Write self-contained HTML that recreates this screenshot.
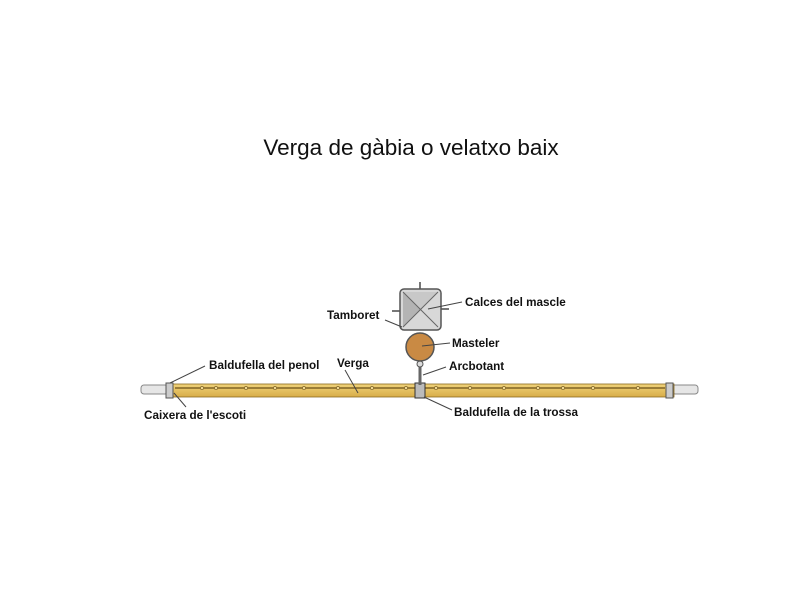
<!DOCTYPE html>
<html><head><style>
body{margin:0;background:#fff;width:800px;height:600px;overflow:hidden}
svg{display:block}
text{font-family:"Liberation Sans",Arial,sans-serif;font-weight:bold;font-size:11.7px;fill:#111}
</style></head><body>
<svg width="800" height="600" viewBox="0 0 800 600">
<text x="411" y="155" text-anchor="middle" style="font-weight:normal;font-size:22.5px">Verga de gàbia o velatxo baix</text>
<defs><linearGradient id="w" x1="0" y1="0" x2="0" y2="1"><stop offset="0" stop-color="#f0d27a"/><stop offset="1" stop-color="#d8ad48"/></linearGradient></defs>
<rect x="141" y="385" width="27" height="9" rx="3" fill="#e6e6e6" stroke="#888"/>
<rect x="672" y="385" width="26" height="9" rx="3" fill="#e6e6e6" stroke="#888"/>
<rect x="166" y="384" width="508" height="13" fill="url(#w)" stroke="#8a6a20" stroke-width="0.8"/>
<line x1="175" y1="388" x2="665" y2="388" stroke="#6b5018" stroke-width="1.2"/>
<g fill="#f0d890" stroke="#6b5018" stroke-width="0.6">
<circle cx="202" cy="388" r="1.6"/><circle cx="216" cy="388" r="1.6"/><circle cx="246" cy="388" r="1.6"/><circle cx="275" cy="388" r="1.6"/><circle cx="304" cy="388" r="1.6"/><circle cx="338" cy="388" r="1.6"/><circle cx="372" cy="388" r="1.6"/><circle cx="406" cy="388" r="1.6"/><circle cx="436" cy="388" r="1.6"/><circle cx="470" cy="388" r="1.6"/><circle cx="504" cy="388" r="1.6"/><circle cx="538" cy="388" r="1.6"/><circle cx="563" cy="388" r="1.6"/><circle cx="593" cy="388" r="1.6"/><circle cx="638" cy="388" r="1.6"/>
</g>
<rect x="166" y="383" width="7" height="15" fill="#ccc" stroke="#555"/>
<rect x="666" y="383" width="7" height="15" fill="#ccc" stroke="#555"/>
<rect x="415" y="383" width="10" height="15" fill="#bbb" stroke="#333"/>
<line x1="420" y1="360" x2="420" y2="385" stroke="#666" stroke-width="3"/>
<circle cx="420" cy="364" r="3" fill="#ddd" stroke="#555"/>
<circle cx="420" cy="347" r="14" fill="#c98a44" stroke="#555" stroke-width="1.5"/>
<line x1="420" y1="282" x2="420" y2="290" stroke="#777" stroke-width="2"/>
<line x1="392" y1="311" x2="401" y2="311" stroke="#777" stroke-width="2"/>
<line x1="440" y1="309" x2="449" y2="309" stroke="#777" stroke-width="2"/>
<rect x="400" y="289" width="41" height="41" rx="4" fill="#d8d8d8" stroke="#555" stroke-width="1.5"/>
<polygon points="403,292 438,292 420.5,309.5" fill="#c8c8c8"/>
<polygon points="403,292 403,327 420.5,309.5" fill="#b4b4b4"/>
<line x1="403" y1="292" x2="438" y2="327" stroke="#666"/><line x1="438" y1="292" x2="403" y2="327" stroke="#666"/>
<g stroke="#444" stroke-width="1">
<line x1="462" y1="302" x2="428" y2="309"/>
<line x1="385" y1="320" x2="402" y2="327"/>
<line x1="450" y1="343" x2="422" y2="346"/>
<line x1="446" y1="367" x2="423" y2="375"/>
<line x1="452" y1="410" x2="424" y2="397"/>
<line x1="205" y1="366" x2="170" y2="383"/>
<line x1="345" y1="370" x2="358" y2="393"/>
<line x1="186" y1="407" x2="174" y2="393"/>
</g>
<text x="465" y="306">Calces del mascle</text>
<text x="327" y="319">Tamboret</text>
<text x="452" y="347">Masteler</text>
<text x="449" y="370">Arcbotant</text>
<text x="454" y="416">Baldufella de la trossa</text>
<text x="209" y="369">Baldufella del penol</text>
<text x="337" y="367">Verga</text>
<text x="144" y="419">Caixera de l'escoti</text>
</svg>
</body></html>
